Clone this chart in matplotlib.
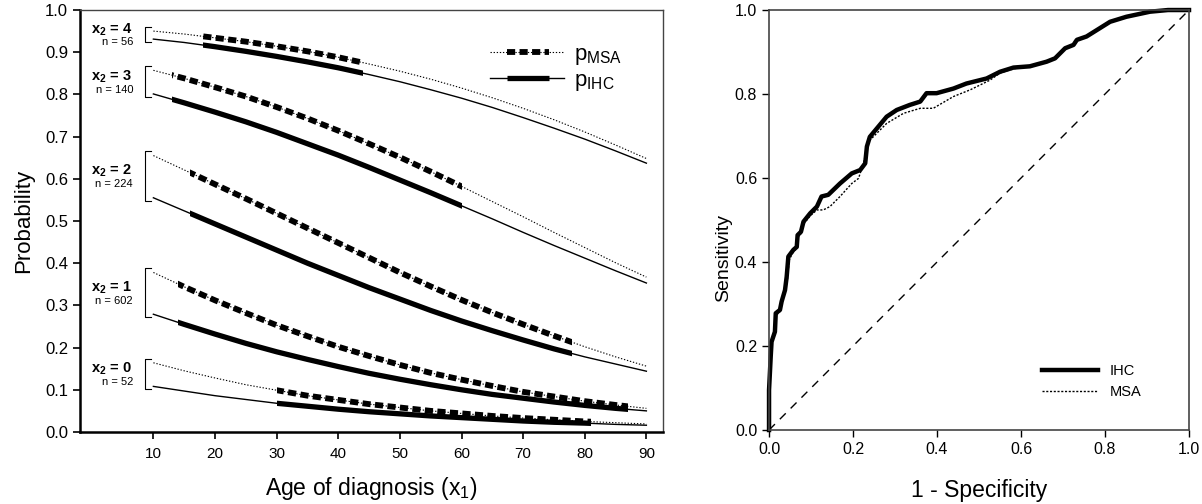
import matplotlib
matplotlib.use("Agg")
import matplotlib.pyplot as plt
from matplotlib.lines import Line2D
from matplotlib.patches import Rectangle
from matplotlib.legend_handler import HandlerBase

plt.rcParams['font.family'] = ['Liberation Sans', 'DejaVu Sans']
plt.rcParams['mathtext.fontset'] = 'custom'
plt.rcParams['mathtext.rm'] = 'Liberation Sans'
plt.rcParams['mathtext.it'] = 'Liberation Sans:italic'
plt.rcParams['mathtext.bf'] = 'Liberation Sans:bold'

# ---- left panel data: predicted probability by age, per x2 group ----
ages = [10, 15, 20, 25, 30, 35, 40, 45, 50, 55, 60, 65, 70, 75, 80, 85, 90]
groups = [4, 3, 2, 1, 0]
group_n = [56, 140, 224, 602, 52]
# observed age range of each group (drawn thick)
age_start = [18, 13, 16, 14, 30]
age_end = [44, 60, 78, 87, 81]

p_msa = [
    [0.950, 0.943, 0.934, 0.925, 0.914, 0.902, 0.888, 0.872, 0.855, 0.836, 0.815, 0.792, 0.767, 0.740, 0.711, 0.680, 0.648],
    [0.857, 0.838, 0.817, 0.795, 0.770, 0.743, 0.714, 0.683, 0.651, 0.617, 0.582, 0.546, 0.510, 0.473, 0.437, 0.401, 0.367],
    [0.655, 0.621, 0.587, 0.553, 0.518, 0.483, 0.448, 0.413, 0.378, 0.345, 0.313, 0.283, 0.255, 0.228, 0.202, 0.178, 0.156],
    [0.378, 0.344, 0.312, 0.282, 0.253, 0.227, 0.202, 0.180, 0.159, 0.140, 0.124, 0.109, 0.095, 0.084, 0.073, 0.064, 0.056],
    [0.164, 0.145, 0.128, 0.112, 0.099, 0.086, 0.076, 0.066, 0.058, 0.050, 0.044, 0.038, 0.033, 0.029, 0.025, 0.022, 0.019],
]
p_ihc = [
    [0.931, 0.923, 0.913, 0.902, 0.890, 0.877, 0.863, 0.847, 0.830, 0.811, 0.791, 0.769, 0.745, 0.720, 0.694, 0.666, 0.637],
    [0.801, 0.780, 0.758, 0.735, 0.710, 0.683, 0.656, 0.627, 0.597, 0.567, 0.536, 0.505, 0.473, 0.442, 0.412, 0.382, 0.353],
    [0.555, 0.524, 0.493, 0.462, 0.431, 0.400, 0.371, 0.342, 0.315, 0.288, 0.263, 0.240, 0.218, 0.197, 0.178, 0.161, 0.144],
    [0.279, 0.255, 0.232, 0.210, 0.190, 0.172, 0.155, 0.139, 0.125, 0.112, 0.100, 0.089, 0.080, 0.071, 0.063, 0.056, 0.050],
    [0.108, 0.097, 0.086, 0.077, 0.068, 0.061, 0.054, 0.048, 0.043, 0.038, 0.034, 0.030, 0.026, 0.023, 0.021, 0.018, 0.016],
]

# ---- right panel data: ROC curves ----
ihc_fpr = [0.0, 0.0, 0.004, 0.006, 0.014, 0.016, 0.026, 0.030, 0.038, 0.042, 0.046, 0.058, 0.066, 0.068, 0.076,
           0.082, 0.098, 0.114, 0.125, 0.141, 0.169, 0.197, 0.217, 0.229, 0.233, 0.240, 0.260, 0.280, 0.304, 0.335,
           0.360, 0.375, 0.399, 0.439, 0.470, 0.518, 0.550, 0.582, 0.621, 0.661, 0.681, 0.705, 0.725, 0.733, 0.756,
           0.780, 0.812, 0.851, 0.907, 0.950, 1.0]
ihc_tpr = [0.0, 0.095, 0.175, 0.210, 0.234, 0.278, 0.286, 0.306, 0.333, 0.365, 0.413, 0.429, 0.436, 0.464, 0.472,
           0.496, 0.516, 0.532, 0.556, 0.560, 0.587, 0.611, 0.619, 0.635, 0.675, 0.698, 0.722, 0.746, 0.762, 0.774,
           0.782, 0.802, 0.802, 0.813, 0.825, 0.837, 0.853, 0.863, 0.866, 0.877, 0.885, 0.909, 0.917, 0.929, 0.937,
           0.952, 0.972, 0.984, 0.996, 1.0, 1.0]
msa_fpr = [0.0, 0.0, 0.004, 0.006, 0.014, 0.016, 0.026, 0.030, 0.038, 0.044, 0.048, 0.058, 0.066, 0.068, 0.076,
           0.082, 0.098, 0.114, 0.129, 0.145, 0.169, 0.197, 0.213, 0.225, 0.233, 0.240, 0.264, 0.280, 0.320, 0.360,
           0.391, 0.439, 0.479, 0.526, 0.550, 0.582, 0.621, 0.661, 0.681, 0.705, 0.725, 0.733, 0.756, 0.780, 0.812,
           0.851, 0.907, 0.950, 1.0]
msa_tpr = [0.0, 0.095, 0.175, 0.205, 0.230, 0.272, 0.282, 0.300, 0.328, 0.360, 0.405, 0.425, 0.432, 0.458, 0.468,
           0.490, 0.510, 0.524, 0.524, 0.532, 0.556, 0.587, 0.599, 0.635, 0.672, 0.690, 0.714, 0.730, 0.754, 0.766,
           0.766, 0.794, 0.810, 0.833, 0.850, 0.860, 0.866, 0.877, 0.885, 0.909, 0.917, 0.929, 0.937, 0.952, 0.972,
           0.984, 0.996, 1.0, 1.0]

THIN_DOT = (0, (1.2, 1.6))
THICK_DASH = (0, (1.4, 0.75))


class PartThickHandler(HandlerBase):
    # thin line across the whole handle, thick piece in the middle
    def create_artists(self, legend, orig_handle, xdescent, ydescent, width, height, fontsize, trans):
        thin, thick = orig_handle
        y = height / 2 - ydescent
        x0 = -xdescent
        a = Line2D([x0, x0 + width], [y, y])
        a.update_from(thin)
        b = Line2D([x0 + 0.22 * width, x0 + 0.8 * width], [y, y])
        b.update_from(thick)
        a.set_transform(trans)
        b.set_transform(trans)
        return [a, b]


fig = plt.figure(figsize=(12.02, 5.04), dpi=100)
ax1 = fig.add_axes([0.0666, 0.1429, 0.4850, 0.8373])
ax2 = fig.add_axes([0.6398, 0.1468, 0.3494, 0.8333])

# ---- left panel ----
for i, g in enumerate(groups):
    ax1.plot(ages, p_msa[i], color='black', lw=0.8, linestyle=THIN_DOT)
    ax1.plot(ages, p_ihc[i], color='black', lw=1.0)
    clip_m = Rectangle((age_start[i], 0), age_end[i] - age_start[i], 1, transform=ax1.transData)
    clip_i = Rectangle((age_start[i], 0), age_end[i] - age_start[i], 1, transform=ax1.transData)
    thick_m, = ax1.plot(ages, p_msa[i], color='black', lw=4.2, linestyle=THICK_DASH, dash_capstyle='butt')
    thick_i, = ax1.plot(ages, p_ihc[i], color='black', lw=3.8, solid_capstyle='butt')
    thick_m.set_clip_path(clip_m)
    thick_i.set_clip_path(clip_i)

    # bracket and group label at the left end of each pair
    top = p_msa[i][0] + 0.010
    bot = p_ihc[i][0] - 0.007
    mid = (top + bot) / 2
    ax1.plot([9.6, 8.7, 8.7, 9.6], [top, top, bot, bot], color='black', lw=0.8)
    ax1.text(6.5, mid + 0.012, r'x$_\mathbf{2}$ = %d' % g, ha='right', va='center',
             fontsize=10.5, fontweight='bold')
    ax1.text(6.7, mid - 0.019, 'n = %d' % group_n[i], ha='right', va='center', fontsize=8)

ax1.set_xlim(-1.9, 92.7)
ax1.set_ylim(0, 1.0)
ax1.set_xticks(range(10, 91, 10))
ax1.set_yticks([i / 10 for i in range(11)])
ax1.set_yticklabels(['%.1f' % (i / 10) for i in range(11)])
ax1.tick_params(length=5, width=1.2, direction='out')
ax1.tick_params(axis='y', labelsize=12)
ax1.tick_params(axis='x', labelsize=11, pad=6)
ax1.set_xlabel('Age of diagnosis (x$_1$)', fontsize=16.5, labelpad=10)
ax1.set_ylabel('Probability', fontsize=16, labelpad=8)
for s in ['left', 'bottom']:
    ax1.spines[s].set_linewidth(1.8)
for s in ['top', 'right']:
    ax1.spines[s].set_linewidth(1.0)
    ax1.spines[s].set_color('#444444')

leg_msa = (Line2D([], [], color='black', lw=0.8, linestyle=THIN_DOT),
           Line2D([], [], color='black', lw=4.2, linestyle=THICK_DASH, dash_capstyle='butt'))
leg_ihc = (Line2D([], [], color='black', lw=1.0),
           Line2D([], [], color='black', lw=3.8, solid_capstyle='butt'))
ax1.legend([leg_msa, leg_ihc], [r'p$_{\mathrm{MSA}}$', r'p$_{\mathrm{IHC}}$'],
           handler_map={tuple: PartThickHandler()}, loc='upper right',
           bbox_to_anchor=(0.945, 0.94), frameon=False, fontsize=16,
           handlelength=3.3, handletextpad=0.45, labelspacing=0.12, borderaxespad=0)

# ---- right panel ----
ax2.plot([0, 1], [0, 1], color='black', lw=1.0, linestyle=(0, (6, 5)))
ax2.plot(ihc_fpr, ihc_tpr, color='black', lw=3.2, label='IHC', clip_on=False)
ax2.plot(msa_fpr, msa_tpr, color='black', lw=1.0, linestyle=(0, (1.5, 1.2)), label='MSA')
ax2.set_xlim(0, 1)
ax2.set_ylim(0, 1)
ax2.set_xticks([0, 0.2, 0.4, 0.6, 0.8, 1.0])
ax2.set_yticks([0, 0.2, 0.4, 0.6, 0.8, 1.0])
ax2.set_xticklabels(['0.0', '0.2', '0.4', '0.6', '0.8', '1.0'])
ax2.set_yticklabels(['0.0', '0.2', '0.4', '0.6', '0.8', '1.0'])
ax2.tick_params(labelsize=11.5, length=5, width=1.0, direction='out')
ax2.set_xlabel('1 - Specificity', fontsize=16.5, labelpad=16)
ax2.set_ylabel('Sensitivity', fontsize=14)
ax2.yaxis.set_label_coords(-0.088, 0.41)
for s in ax2.spines.values():
    s.set_linewidth(1.2)
    s.set_color('#444444')
ax2.legend(loc='lower right', bbox_to_anchor=(0.9, 0.06), frameon=False, fontsize=10.5,
           handlelength=3.8, handletextpad=0.8, labelspacing=0.5, borderaxespad=0)

fig.savefig('out.png', dpi=100)
